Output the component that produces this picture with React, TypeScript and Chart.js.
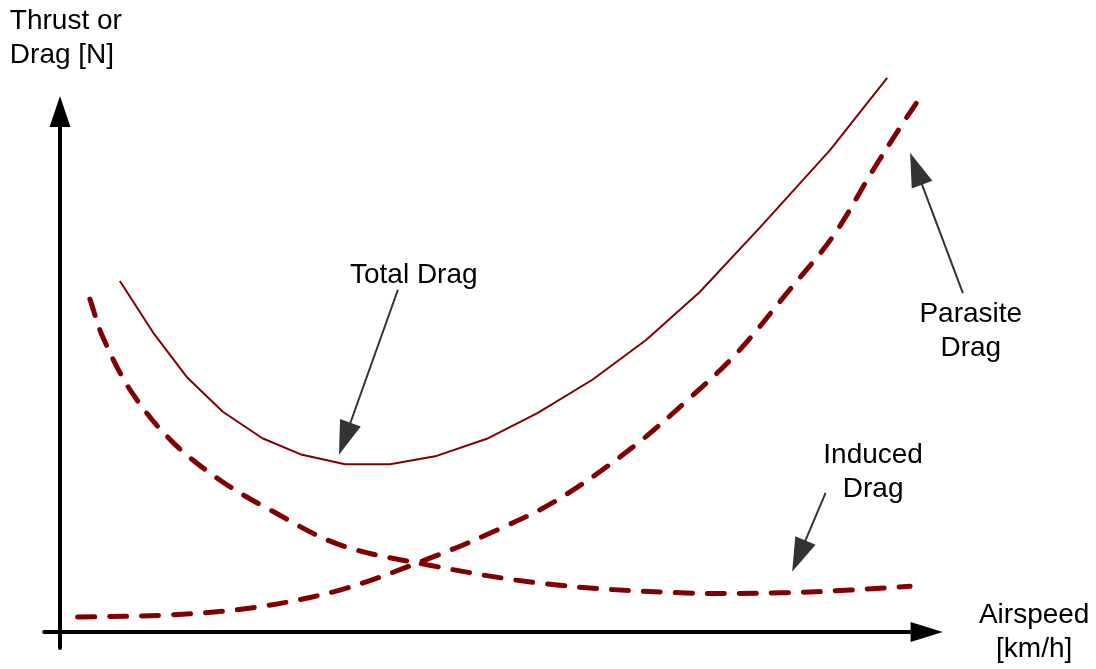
import React, { useEffect, useRef } from "react";
import { Chart, registerables } from "chart.js";

Chart.register(...registerables);

// Airspeed (x, 0..100) and force (y, 0..100) in arbitrary schematic units
const totalDragX = [6.8, 10.6, 14.4, 18.5, 23.0, 27.5, 32.4, 37.5, 42.8, 48.5, 54.3, 60.5, 66.6, 72.7, 79.5, 87.5, 94.0];
const totalDragY = [63.6, 54.2, 46.2, 39.9, 35.1, 32.1, 30.4, 30.4, 31.9, 35.0, 39.7, 45.7, 52.9, 61.6, 73.2, 87.3, 100.4];

const parasiteX = [2.0, 12.5, 21.9, 31.8, 42.4, 49.7, 56.5, 65.1, 71.3, 76.9, 82.6, 87.8, 92.4, 95.5, 97.3];
const parasiteY = [2.7, 3.1, 4.4, 7.6, 13.6, 18.5, 23.9, 33.5, 42.0, 50.5, 61.4, 71.6, 83.7, 91.5, 95.8];

const inducedX = [3.4, 4.9, 8.2, 12.8, 18.2, 23.9, 31.8, 42.0, 55.3, 70.5, 81.8, 89.8, 96.6];
const inducedY = [60.3, 53.3, 43.3, 34.4, 27.5, 22.1, 15.8, 12.1, 8.7, 7.1, 7.1, 7.6, 8.3];

const yAxisTitle = ["Thrust or", "Drag [N]"];
const xAxisTitle = ["Airspeed", "[km/h]"];

const labels = [
  { lines: ["Total Drag"], x: 40.2, y: 63.2, align: "center" },
  { lines: ["Parasite", "Drag"], x: 103.5, y: 56.2, align: "center" },
  { lines: ["Induced", "Drag"], x: 92.4, y: 30.6, align: "center" },
  { lines: yAxisTitle, x: -5.7, y: 109.2, align: "left" },
  { lines: xAxisTitle, x: 110.7, y: 1.6, align: "center" },
];

const pointers = [
  { from: [38.4, 62.0], to: [31.7, 32.1] },
  { from: [102.6, 61.4], to: [96.6, 86.8] },
  { from: [87.0, 25.2], to: [83.2, 10.9] },
];

const axisLimits = { xStart: -1.8, xTip: 100.3, yStart: -2.9, yTip: 97.1 };

const toPts = (xs: number[], ys: number[]) => xs.map((x, i) => ({ x, y: ys[i] }));

function arrowHead(ctx: CanvasRenderingContext2D, x1: number, y1: number, x2: number, y2: number, len: number, half: number) {
  const a = Math.atan2(y2 - y1, x2 - x1);
  const bx = x2 - len * Math.cos(a);
  const by = y2 - len * Math.sin(a);
  ctx.beginPath();
  ctx.moveTo(x2, y2);
  ctx.lineTo(bx + half * Math.sin(a), by - half * Math.cos(a));
  ctx.lineTo(bx - half * Math.sin(a), by + half * Math.cos(a));
  ctx.closePath();
  ctx.fill();
}

const diagramPlugin = {
  id: "diagram",
  afterDatasetsDraw(chart: any) {
    const ctx: CanvasRenderingContext2D = chart.ctx;
    const xs = chart.scales.x;
    const ys = chart.scales.y;
    const px = (v: number) => xs.getPixelForValue(v);
    const py = (v: number) => ys.getPixelForValue(v);
    ctx.save();
    // axes
    ctx.strokeStyle = "#000";
    ctx.fillStyle = "#000";
    ctx.lineWidth = 4;
    ctx.lineCap = "round";
    const ox = px(0);
    const oy = py(0);
    ctx.beginPath();
    ctx.moveTo(ox, py(axisLimits.yStart));
    ctx.lineTo(ox, py(axisLimits.yTip) + 20);
    ctx.stroke();
    ctx.beginPath();
    ctx.moveTo(px(axisLimits.xStart), oy);
    ctx.lineTo(px(axisLimits.xTip) - 20, oy);
    ctx.stroke();
    arrowHead(ctx, ox, oy, ox, py(axisLimits.yTip), 31, 10.5);
    arrowHead(ctx, ox, oy, px(axisLimits.xTip), oy, 32, 10);

    // pointers
    ctx.strokeStyle = "#333";
    ctx.fillStyle = "#333";
    ctx.lineWidth = 2;
    ctx.lineCap = "butt";
    for (const p of pointers) {
      const x1 = px(p.from[0]), y1 = py(p.from[1]);
      const x2 = px(p.to[0]), y2 = py(p.to[1]);
      const a = Math.atan2(y2 - y1, x2 - x1);
      ctx.beginPath();
      ctx.moveTo(x1, y1);
      ctx.lineTo(x2 - 20 * Math.cos(a), y2 - 20 * Math.sin(a));
      ctx.stroke();
      arrowHead(ctx, x1, y1, x2, y2, 34, 11);
    }

    // labels
    ctx.fillStyle = "#000";
    ctx.font = '28px "Liberation Sans", Arial, sans-serif';
    ctx.textBaseline = "alphabetic";
    for (const l of labels) {
      ctx.textAlign = l.align as CanvasTextAlign;
      l.lines.forEach((t, i) => ctx.fillText(t, px(l.x), py(l.y) + i * 34));
    }
    ctx.restore();
  },
};

export default function App() {
  const ref = useRef<HTMLCanvasElement>(null);
  useEffect(() => {
    if (!ref.current) return;
    const common = { pointRadius: 0, borderColor: "#800000", fill: false, clip: false as any };
    const chart = new Chart(ref.current, {
      type: "line",
      data: {
        datasets: [
          { ...common, label: "Total Drag", data: toPts(totalDragX, totalDragY), borderWidth: 2, tension: 0, borderJoinStyle: "round" },
          { ...common, label: "Parasite Drag", data: toPts(parasiteX, parasiteY), borderWidth: 5, tension: 0.35, borderDash: [17, 15], borderCapStyle: "round" },
          { ...common, label: "Induced Drag", data: toPts(inducedX, inducedY), borderWidth: 5, tension: 0.35, borderDash: [17, 15], borderCapStyle: "round" },
        ],
      },
      options: {
        responsive: false,
        animation: false,
        events: [],
        layout: { padding: { left: 60, right: 156, top: 80, bottom: 37 } },
        plugins: { legend: { display: false }, tooltip: { enabled: false } },
        scales: {
          x: { type: "linear", min: 0, max: 100, display: false },
          y: { type: "linear", min: 0, max: 100, display: false },
        },
      },
      plugins: [diagramPlugin],
    });
    return () => chart.destroy();
  }, []);
  return (
    <div style={{ position: "absolute", left: 0, top: 0, width: 1096, height: 669, background: "#fff" }}>
      <canvas ref={ref} width={1096} height={669} />
    </div>
  );
}
